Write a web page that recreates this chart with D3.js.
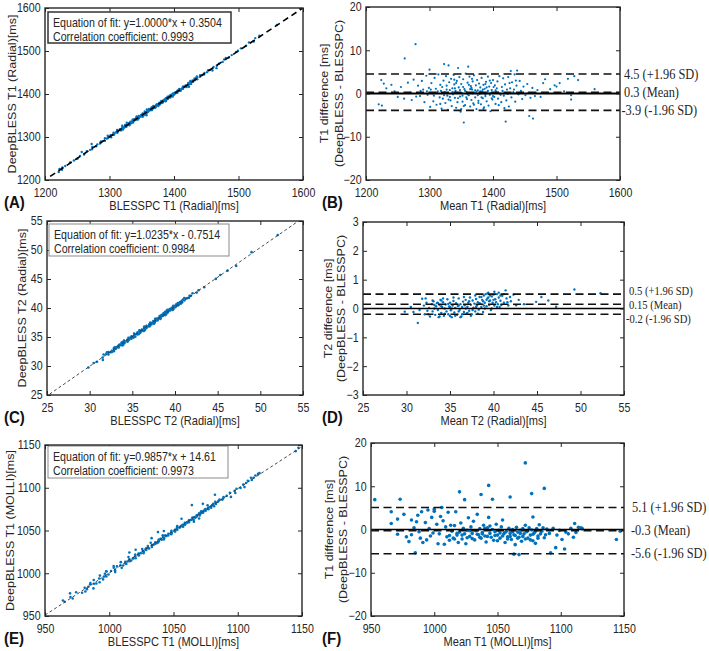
<!DOCTYPE html>
<html><head><meta charset="utf-8">
<script src="https://cdn.jsdelivr.net/npm/d3@7"></script>
<style>body{margin:0;background:#fff}svg{display:block}</style>
</head><body>
<svg id="c" width="709" height="651"></svg>
<script>
// ---------- DATA (Bland-Altman pairs: [mean, difference]) ----------
const t1RadialBA = [
[1278,11.4],[1261,8.1],[1323,6.8],[1330,6.5],[1300,5.5],[1361,6.2],[1345,5.9],[1428,5.2],[1438,5.3],[1528,4.0],[1534,3.1],[1560,1.0],[1482,3.3],[1497,1.9],[1500,1.6],[1354,-6.7],[1420,-6.5],[1463,-5.8],[1457,-5.2],[1523,-0.4],[1523,-1.4],[1220,-2.5],[1225,-2.8],[1224,3.1],[1228,2.3],[1232,1.2],[1245,0.5],[1250,-0.8],[1240,2.0],[1255,1.5],[1260,-1.2],[1266,2.5],[1270,0.2],[1272,-1.5],[1275,3.2],[1282,1.8],[1285,-0.6],[1288,2.9],[1290,0.9],[1292,-2.0],[1295,4.1],[1297,-0.3],[1299,1.3],[1301,-3.1],[1303,2.4],[1305,0.0],[1306,-1.8],[1308,3.6],[1310,1.1],[1311,-2.6],[1313,0.5],[1314,4.4],[1316,-0.9],[1317,2.0],[1319,-3.5],[1320,1.5],[1321,-1.2],[1322,3.0],[1324,0.3],[1325,-2.2],[1326,4.0],[1327,1.8],[1328,-0.5],[1329,-3.8],[1331,2.6],[1332,0.8],[1333,-1.6],[1334,3.4],[1335,-2.9],[1336,1.2],[1337,-0.2],[1338,4.3],[1339,2.1],[1340,-1.0],[1341,0.6],[1342,-3.3],[1343,2.9],[1344,-2.0],[1346,1.4],[1347,3.8],[1348,-0.7],[1349,-4.2],[1350,2.2],[1351,0.1],[1352,-1.9],[1353,3.3],[1355,1.0],[1356,-2.7],[1357,4.6],[1358,0.4],[1359,-1.3],[1360,2.5],[1362,-0.4],[1363,3.9],[1364,-3.0],[1365,1.7],[1366,-1.5],[1367,0.9],[1368,2.8],[1369,-2.3],[1370,4.2],[1371,0.2],[1372,-0.9],[1373,1.9],[1374,-3.6],[1375,3.1],[1376,0.7],[1377,-1.7],[1378,2.3],[1379,-0.1],[1380,1.4],[1381,-2.5],[1382,3.6],[1383,0.5],[1384,-1.1],[1385,2.0],[1386,-3.2],[1387,1.1],[1388,-0.6],[1389,2.7],[1390,-1.8],[1391,0.3],[1392,3.9],[1393,-2.8],[1394,1.6],[1395,-0.3],[1396,-4.1],[1397,2.4],[1398,0.8],[1399,-1.4],[1400,3.1],[1402,-0.8],[1403,1.9],[1404,-2.4],[1405,0.4],[1407,2.8],[1408,-1.2],[1410,4.0],[1411,0.0],[1413,-2.0],[1414,1.5],[1416,3.5],[1417,-0.5],[1419,2.1],[1421,-1.6],[1422,0.9],[1424,3.8],[1425,-3.0],[1427,1.2],[1429,-0.9],[1430,2.6],[1432,0.3],[1434,4.4],[1435,-1.9],[1437,1.8],[1440,-0.2],[1442,2.9],[1444,0.6],[1446,-1.3],[1448,1.6],[1451,-0.4],[1454,2.2],[1456,0.2],[1459,-1.0],[1462,1.3],[1466,-0.6],[1470,0.8],[1475,-0.8],[1479,2.4],[1485,0.1],[1490,1.0],[1505,2.4],[1512,0.5],[1518,3.4],
[1318,0.6],[1323,-0.4],[1327,0.9],[1332,-0.8],[1336,0.3],[1340,1.2],[1344,0.1],[1348,0.8],[1352,-0.5],[1356,0.6],[1360,-0.2],[1364,1.0],[1368,0.0],[1372,0.7],[1376,-0.4],[1380,0.5],[1384,0.9],[1388,-0.2],[1392,0.6],[1396,0.1],[1400,-0.6],[1404,0.7],[1408,0.2],[1412,-0.3],[1296,0.5],[1302,0.9],[1307,-0.5],[1312,0.2],[1345,-1.1],[1353,1.5],[1358,-0.9],[1366,1.3],[1374,0.4],[1382,-0.9],[1390,1.4],[1398,-1.1],[1406,1.2],[1415,0.6],[1423,-0.1],[1433,0.9],[1286,0.6],[1279,-0.7],[1342,2.4],[1354,-2.9],[1362,2.0],[1377,-2.2],[1385,-3.5],[1395,3.0],[1409,-2.7],[1418,-3.4],[1426,2.4],[1436,3.0],[1317,-2.4],[1330,-1.4],[1339,3.2],[1350,-3.6],[1367,3.4],[1370,-2.6],[1388,2.2],[1401,1.5]
];
const t2RadialBA = [
[29.8,-0.11],[30.5,0.05],[30.8,-0.12],[31.3,-0.5],[31.8,0.34],[31.5,-0.05],[32.0,0.1],[32.1,-0.2],[32.3,0.2],[32.4,-0.08],[32.6,0.02],[32.7,-0.28],[32.9,0.15],[33.0,-0.1],[33.1,0.25],[33.2,0.0],[33.3,-0.22],[33.4,0.08],[33.5,0.18],[33.6,-0.05],[33.7,-0.3],[33.8,0.12],[33.9,0.3],[34.0,-0.15],[34.1,0.05],[34.2,0.22],[34.3,-0.25],[34.4,0.0],[34.5,0.14],[34.6,-0.1],[34.7,0.32],[34.8,-0.2],[34.9,0.07],[35.0,0.2],[35.1,-0.06],[35.2,-0.3],[35.3,0.1],[35.4,0.26],[35.5,-0.14],[35.6,0.02],[35.7,0.18],[35.8,-0.22],[35.9,0.09],[36.0,0.35],[36.1,-0.05],[36.2,0.15],[36.3,-0.28],[36.4,0.05],[36.5,0.24],[36.6,-0.12],[36.7,0.11],[36.8,0.3],[36.9,-0.18],[37.0,0.06],[37.1,0.2],[37.2,-0.08],[37.3,0.38],[37.4,0.13],[37.5,-0.2],[37.6,0.28],[37.7,0.03],[37.8,0.17],[37.9,-0.1],[38.0,0.33],[38.1,0.1],[38.2,0.22],[38.3,-0.04],[38.4,0.4],[38.5,0.16],[38.6,0.05],[38.7,0.3],[38.8,-0.12],[38.9,0.45],[39.0,0.2],[39.1,0.5],[39.2,0.08],[39.3,0.35],[39.4,0.55],[39.5,0.12],[39.6,0.28],[39.7,-0.05],[39.8,0.42],[39.9,0.2],[40.0,0.48],[40.1,0.1],[40.2,0.32],[40.3,0.22],[40.4,0.5],[40.5,0.15],[40.6,0.38],[40.7,0.05],[40.8,0.27],[41.0,0.44],[41.2,0.2],[41.4,0.63],[41.5,0.35],[41.7,0.1],[41.9,0.4],[42.0,0.25],[42.3,0.48],[42.6,0.11],[42.9,0.3],[43.5,0.15],[44.9,0.23],[45.5,0.4],[46.3,0.28],[47.2,0.06],[49.3,0.66],[52.3,0.53],
[33.2,0.12],[33.6,0.2],[34.0,0.08],[34.4,-0.18],[34.8,0.16],[35.2,0.0],[35.6,-0.25],[36.0,0.1],[36.4,-0.2],[36.8,0.0],[37.2,0.25],[37.6,-0.05],[38.0,0.05],[38.4,0.18],[38.8,0.25],[39.2,0.3],[39.6,0.45],[40.0,0.3],[40.4,0.05],[40.8,0.45],[39.0,0.0],[39.4,0.38],[38.6,0.4],[37.9,0.45],[36.6,0.4],[35.4,0.38],[34.2,0.35],[33.0,0.28],[32.2,0.35],[32.5,-0.2],[33.8,-0.28],[35.0,-0.26],[36.2,-0.3],[37.4,-0.25],[38.2,-0.18],[39.8,0.0],[40.6,0.55],[41.2,0.5],[39.3,0.52],[40.1,0.58],[37.0,-0.15],[36.0,-0.1],[35.0,0.05],[34.0,0.28],[39.5,0.25],[38.9,0.1],[40.9,0.12],[41.6,0.22]
];
const t1MolliBA = [
[953,6.9],[966,4.1],[973,7.0],[971,2.4],[966,1.4],[971,-1.1],[976,3.5],[978,-1.7],[980,-2.8],[982,2.2],[986,1.8],[985,-5.4],[987,3.3],[990,4.1],[995,4.5],[1000,4.7],[1000,4.2],[982,-1.2],[984,0.4],[988,-0.5],[989,-2.0],[991,-3.0],[993,1.6],[994,-2.4],[996,0.2],[997,-1.5],[998,2.8],[999,-0.8],[1002,1.2],[1003,-3.3],[1004,-1.0],[1005,3.0],[1006,5.1],[1007,2.0],[1008,-3.4],[1009,0.6],[1010,-1.7],[1011,4.0],[1012,-2.5],[1013,1.0],[1014,-0.4],[1015,-2.0],[1016,0.9],[1017,4.1],[1018,-1.3],[1019,-3.0],[1020,8.7],[1020,-0.6],[1021,1.5],[1022,-2.2],[1023,0.3],[1024,6.9],[1024,-1.0],[1025,-3.3],[1026,-0.2],[1027,2.7],[1028,-1.6],[1029,0.6],[1030,-0.9],[1031,1.9],[1032,-2.4],[1033,-0.3],[1034,3.5],[1035,-1.2],[1036,0.2],[1037,8.1],[1037,-2.0],[1038,-0.7],[1039,1.0],[1040,-1.5],[1041,-2.9],[1042,0.4],[1043,10.2],[1043,2.8],[1044,-0.9],[1045,-1.8],[1046,7.0],[1046,0.0],[1047,-2.5],[1048,-0.5],[1049,1.2],[1050,-1.3],[1051,-0.2],[1052,-2.0],[1053,0.6],[1054,2.2],[1055,-1.0],[1056,-3.0],[1057,-0.4],[1058,-1.7],[1059,0.3],[1060,7.5],[1060,-0.9],[1061,-2.3],[1062,0.0],[1063,-5.7],[1063,-1.2],[1064,-3.5],[1065,0.5],[1066,-0.6],[1067,-5.8],[1067,-1.8],[1068,-0.2],[1069,-2.7],[1070,0.2],[1071,-1.0],[1072,15.4],[1072,1.0],[1073,-0.5],[1074,-2.0],[1075,0.4],[1076,-1.3],[1077,8.3],[1077,-0.1],[1078,2.9],[1078,-2.6],[1079,-0.8],[1080,-3.2],[1081,0.2],[1082,-1.5],[1083,1.1],[1085,-0.4],[1087,9.5],[1087,-1.9],[1089,0.1],[1091,-0.9],[1092,-5.4],[1094,0.3],[1096,-4.2],[1097,-1.3],[1099,-0.2],[1101,-2.3],[1103,-4.5],[1104,-0.6],[1106,-1.0],[1108,0.3],[1110,-1.8],[1111,1.4],[1112,-0.7],[1114,0.5],[1116,0.4],[1117,0.2],[1144,-2.3],[1147,-0.4],
[1012,-1.4],[1016,-2.2],[1018,-0.9],[1022,-1.3],[1026,-1.9],[1028,-0.3],[1030,-2.1],[1034,-1.1],[1036,-1.8],[1038,-1.0],[1040,0.3],[1042,-1.6],[1044,0.8],[1048,-1.4],[1050,-2.6],[1052,-0.8],[1054,-1.5],[1056,-0.7],[1058,-2.2],[1060,-1.6],[1062,-0.5],[1064,-1.4],[1066,-2.0],[1068,-0.9],[1070,-1.6],[1072,-2.2],[1074,-0.3],[1076,-2.4],[1078,-1.1],[1080,-0.4],[1082,-2.0],[1084,-1.0],[1086,0.4],[1088,-1.2]
];

const fitSlopes = [1.0000, 1.0235, 0.9857];
const fitIntercepts = [0.3504, -0.7514, 14.61];
const fitTexts = ["Equation of fit: y=1.0000*x + 0.3504", "Equation of fit: y=1.0235*x - 0.7514", "Equation of fit: y=0.9857*x + 14.61"];
const corrTexts = ["Correlation coefficient: 0.9993", "Correlation coefficient: 0.9984", "Correlation coefficient: 0.9973"];

const t1RadialLimitValues = [4.5, 0.3, -3.9];
const t1RadialLimitLabels = ["4.5 (+1.96 SD)", "0.3 (Mean)", "-3.9 (-1.96 SD)"];
const t2RadialLimitValues = [0.5, 0.15, -0.2];
const t2RadialLimitLabels = ["0.5 (+1.96 SD)", "0.15 (Mean)", "-0.2 (-1.96 SD)"];
const t1MolliLimitValues = [5.1, -0.3, -5.6];
const t1MolliLimitLabels = ["5.1 (+1.96 SD)", "-0.3 (Mean)", "-5.6 (-1.96 SD)"];

const t1RadialTicks = [1200, 1300, 1400, 1500, 1600];
const t2RadialTicks = [25, 30, 35, 40, 45, 50, 55];
const t1MolliTicks = [950, 1000, 1050, 1100, 1150];
const t1DiffTicks = [-20, -10, 0, 10, 20];
const t2DiffTicks = [-3, -2, -1, 0, 1, 2, 3];

const panelLetters = ["(A)", "(B)", "(C)", "(D)", "(E)", "(F)"];
const xLabels = ["BLESSPC T1 (Radial)[ms]", "Mean T1 (Radial)[ms]", "BLESSPC T2 (Radial)[ms]", "Mean T2 (Radial)[ms]", "BLESSPC T1 (MOLLI)[ms]", "Mean T1 (MOLLI)[ms]"];
const yLabels = [["DeepBLESS T1 (Radial)[ms]"], ["T1 difference [ms]", "(DeepBLESS - BLESSPC)"], ["DeepBLESS T2 (Radial)[ms]"], ["T2 difference [ms]", "(DeepBLESS - BLESSPC)"], ["DeepBLESS T1 (MOLLI)[ms]"], ["T1 difference [ms]", "(DeepBLESS - BLESSPC)"]];

// ---------- DRAWING ----------
const SX = 0.885;
const svg = d3.select("#c");
const sans = "'Liberation Sans', Arial, sans-serif";
const serif = "'Liberation Serif', 'Times New Roman', serif";
const blue = "#0072BD";
const ink = "#262626";
const fmt = d3.format("d");
let clipId = 0;

function hText(x, y, str, o = {}) {
  return svg.append("text")
    .attr("transform", `translate(${x},${y}) scale(${o.sx || SX},1)`)
    .attr("text-anchor", o.anchor || "start")
    .attr("font-family", o.family || sans)
    .attr("font-size", o.size || 12.5)
    .attr("font-weight", o.weight || "normal")
    .attr("fill", o.fill || ink)
    .text(str);
}
function vText(x, y, str, o = {}) {
  return svg.append("text")
    .attr("transform", `translate(${x},${y}) rotate(-90) scale(1,${SX})`)
    .attr("text-anchor", "middle")
    .attr("font-family", sans)
    .attr("font-size", o.size || 12.5)
    .attr("fill", ink)
    .text(str);
}

function panel(p) {
  const x = d3.scaleLinear().domain(p.xDomain).range([p.left, p.right]);
  const y = d3.scaleLinear().domain(p.yDomain).range([p.bottom, p.top]);
  const id = "clip" + (clipId++);
  svg.append("clipPath").attr("id", id).append("rect")
    .attr("x", p.left).attr("y", p.top).attr("width", p.right - p.left).attr("height", p.bottom - p.top);
  const g = svg.append("g").attr("clip-path", `url(#${id})`);

  const styleAxis = (a, hideText) => {
    a.select(".domain").remove();
    a.selectAll(".tick line").attr("stroke", ink).attr("stroke-width", 1);
    a.selectAll(".tick text").attr("fill", ink).attr("font-family", sans).attr("font-size", 12)
      .attr("transform", `scale(${SX},1)`);
    if (hideText) a.selectAll(".tick text").remove();
  };
  const T = 4;
  svg.append("g").attr("transform", `translate(0,${p.bottom})`)
    .call(d3.axisBottom(x).tickValues(p.xTicks).tickFormat(fmt).tickSizeInner(-T).tickSizeOuter(0).tickPadding(8))
    .call(a => styleAxis(a, false));
  svg.append("g").attr("transform", `translate(0,${p.top})`)
    .call(d3.axisTop(x).tickValues(p.xTicks).tickSizeInner(-T).tickSizeOuter(0).tickFormat(""))
    .call(a => styleAxis(a, true));
  svg.append("g").attr("transform", `translate(${p.left},0)`)
    .call(d3.axisLeft(y).tickValues(p.yTicks).tickFormat(fmt).tickSizeInner(-T).tickSizeOuter(0).tickPadding(5))
    .call(a => styleAxis(a, false));
  svg.append("g").attr("transform", `translate(${p.right},0)`)
    .call(d3.axisRight(y).tickValues(p.yTicks).tickSizeInner(-T).tickSizeOuter(0).tickFormat(""))
    .call(a => styleAxis(a, true));
  return { x, y, g };
}

function frameBox(p) {
  svg.append("rect").attr("x", p.left).attr("y", p.top).attr("width", p.right - p.left).attr("height", p.bottom - p.top)
    .attr("fill", "none").attr("stroke", ink).attr("stroke-width", 1.4);
}

function scatterPanel(p, data, k, lineStyle, boxStyle, r) {
  const { x, y, g } = panel(p);
  g.selectAll("circle").data(data).join("circle")
    .attr("cx", d => x(d[0] - d[1] / 2)).attr("cy", d => y(d[0] + d[1] / 2))
    .attr("r", r).attr("fill", blue);
  const x0 = p.fitX0, x1 = Math.min(p.xDomain[1], (p.yDomain[1] - fitIntercepts[k]) / fitSlopes[k]);
  g.append("line")
    .attr("x1", x(x0)).attr("y1", y(fitSlopes[k] * x0 + fitIntercepts[k]))
    .attr("x2", x(x1)).attr("y2", y(fitSlopes[k] * x1 + fitIntercepts[k]))
    .attr("stroke", lineStyle.color).attr("stroke-width", lineStyle.width).attr("stroke-dasharray", lineStyle.dash);
  const b = p.box;
  svg.append("rect").attr("x", b[0]).attr("y", b[1]).attr("width", b[2]).attr("height", b[3])
    .attr("fill", "#fff").attr("stroke", boxStyle.color).attr("stroke-width", boxStyle.width);
  hText(b[0] + 5, b[1] + 14.5, fitTexts[k], { size: 12 });
  hText(b[0] + 5, b[1] + 28.5, corrTexts[k], { size: 12 });
  frameBox(p);
}

function baPanel(p, data, limits, labels, r, zeroWidth, labelOpts) {
  const { x, y, g } = panel(p);
  g.selectAll("circle").data(data).join("circle")
    .attr("cx", d => x(d[0])).attr("cy", d => y(d[1]))
    .attr("r", r).attr("fill", blue);
  g.append("line").attr("x1", p.left).attr("x2", p.right).attr("y1", y(0)).attr("y2", y(0))
    .attr("stroke", "#000").attr("stroke-width", zeroWidth);
  g.selectAll("line.lim").data(limits).join("line").attr("class", "lim")
    .attr("x1", p.left).attr("x2", p.right).attr("y1", d => y(d)).attr("y2", d => y(d))
    .attr("stroke", "#111").attr("stroke-width", 1.6).attr("stroke-dasharray", "8,4.5");
  limits.forEach((v, i) => {
    const neg = labels[i].startsWith("-");
    hText(labelOpts.x - (neg ? labelOpts.negShift : 0), y(v) + 4.5 + labelOpts.dy[i], labels[i],
      { family: serif, size: labelOpts.size });
  });
  frameBox(p);
}

// Panel A
const pA = { left: 45, right: 303, top: 8, bottom: 180, xDomain: [1200, 1600], yDomain: [1200, 1600],
  xTicks: t1RadialTicks, yTicks: t1RadialTicks, fitX0: 1208, box: [48, 12, 183, 31] };
scatterPanel(pA, t1RadialBA, 0, { color: "#000", width: 1.6, dash: "6,4" }, { color: "#333", width: 1.5 }, 1.2);
// Panel B
const pB = { left: 366, right: 620, top: 7, bottom: 180, xDomain: [1200, 1600], yDomain: [-20, 20],
  xTicks: t1RadialTicks, yTicks: t1DiffTicks };
baPanel(pB, t1RadialBA, t1RadialLimitValues, t1RadialLimitLabels, 1.1, 2.2, { x: 624, negShift: 2.5, dy: [0, 0, 0], size: 14 });
// Panel C
const pC = { left: 47, right: 303, top: 221, bottom: 395, xDomain: [25, 55], yDomain: [25, 55],
  xTicks: t2RadialTicks, yTicks: t2RadialTicks, fitX0: 25.3, box: [49, 224, 180, 32] };
scatterPanel(pC, t2RadialBA, 1, { color: "#333", width: 0.9, dash: "3,2.5" }, { color: "#8a8a8a", width: 1 }, 1.3);
// Panel D
const pD = { left: 363, right: 624, top: 222, bottom: 395, xDomain: [25, 55], yDomain: [-3, 3],
  xTicks: t2RadialTicks, yTicks: t2DiffTicks };
baPanel(pD, t2RadialBA, t2RadialLimitValues, t2RadialLimitLabels, 1.2, 1.6, { x: 629, negShift: 3, dy: [-3.4, 0.6, 4.6], size: 12 });
// Panel E
const pE = { left: 45, right: 302, top: 445, bottom: 616, xDomain: [950, 1150], yDomain: [950, 1150],
  xTicks: t1MolliTicks, yTicks: t1MolliTicks, fitX0: 950, box: [48, 446, 180, 32] };
scatterPanel(pE, t1MolliBA, 2, { color: "#333", width: 0.9, dash: "3,2.5" }, { color: "#8a8a8a", width: 1 }, 1.3);
// Panel F
const pF = { left: 371, right: 624, top: 443, bottom: 616, xDomain: [950, 1150], yDomain: [-20, 20],
  xTicks: t1MolliTicks, yTicks: t1DiffTicks };
baPanel(pF, t1MolliBA, t1MolliLimitValues, t1MolliLimitLabels, 1.8, 1.6, { x: 632, negShift: 1, dy: [0, 0, 0], size: 14 });

// Axis labels and panel letters
const panels = [pA, pB, pC, pD, pE, pF];
const yLabelX = [[12], [324, 339], [22], [328, 341], [10], [329, 343]];
panels.forEach((p, i) => {
  hText((p.left + p.right) / 2, p.bottom + 30, xLabels[i], { anchor: "middle" });
  const cy = (p.top + p.bottom) / 2;
  yLabels[i].forEach((t, j) => vText(yLabelX[i][j] + 4, cy, t));
  const lx = i % 2 === 0 ? 4 : 322;
  hText(lx, p.bottom + 28, panelLetters[i], { size: 17, weight: "bold", fill: "#111" });
});
</script>
</body></html>
